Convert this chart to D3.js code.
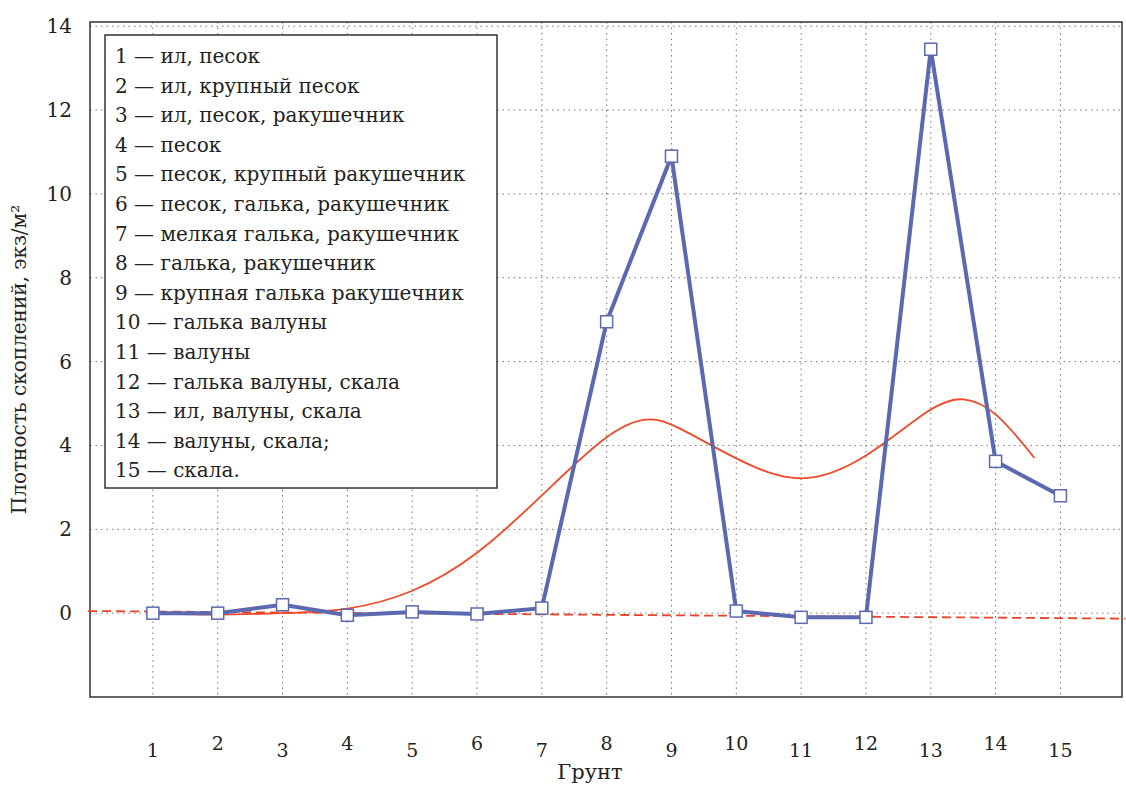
<!DOCTYPE html>
<html><head><meta charset="utf-8">
<script src="https://cdn.jsdelivr.net/npm/d3@7"></script>
<style>body{margin:0;background:#fff}text{font-family:"DejaVu Serif","Liberation Serif",serif;fill:#222}</style>
</head><body><div id="chart"></div>
<script>
const categories = [1,2,3,4,5,6,7,8,9,10,11,12,13,14,15];
const density = [0,0,0.2,-0.05,0.03,-0.02,0.12,6.95,10.9,0.05,-0.1,-0.1,13.45,3.62,2.8];
const trendX = [1,2,3,4,5,6,7,8,8.6,9,10,11,12,13,13.5,14,14.6];
const trendY = [0,-0.05,0,0.05,0.45,1.35,2.8,4.3,4.7,4.55,3.65,3.0,3.65,4.95,5.2,4.85,3.7];
const linX = [0,16];
const linY = [0.05,-0.13];
const yTicks = [0,2,4,6,8,10,12,14];
const legendItems = ["1 — ил, песок","2 — ил, крупный песок","3 — ил, песок, ракушечник","4 — песок",
"5 — песок, крупный ракушечник","6 — песок, галька, ракушечник","7 — мелкая галька, ракушечник",
"8 — галька, ракушечник","9 — крупная галька ракушечник","10 — галька валуны","11 — валуны",
"12 — галька валуны, скала","13 — ил, валуны, скала","14 — валуны, скала;","15 — скала."];

const W=1126,H=785;
const svg=d3.select("#chart").append("svg").attr("width",W).attr("height",H);
const L=90,R=1122,T=22,B=697;
const x=d3.scaleLinear().domain([0.03,15.95]).range([L,R]);
const y=d3.scaleLinear().domain([-2,14.1]).range([B,T]);

svg.append("g").selectAll("line").data(categories).join("line")
  .attr("x1",d=>x(d)).attr("x2",d=>x(d)).attr("y1",T).attr("y2",B)
  .attr("stroke","#777").attr("stroke-dasharray","1.5,4");
svg.append("g").selectAll("line").data(yTicks).join("line")
  .attr("x1",L).attr("x2",R).attr("y1",d=>y(d)).attr("y2",d=>y(d))
  .attr("stroke","#777").attr("stroke-dasharray","1.5,4");
svg.append("rect").attr("x",L).attr("y",T).attr("width",R-L).attr("height",B-T)
  .attr("fill","none").attr("stroke","#333").attr("stroke-width",1.5);

svg.append("g").selectAll("text").data(yTicks).join("text")
  .attr("x",L-18).attr("y",d=>y(d)+7).attr("text-anchor","end").attr("font-size",20).text(d=>d);
svg.append("g").selectAll("text").data(categories).join("text")
  .attr("x",d=>x(d)).attr("y",d=>d%2? 757:750).attr("text-anchor","middle").attr("font-size",19).text(d=>d);
svg.append("text").attr("x",590).attr("y",779).attr("text-anchor","middle").attr("font-size",21).text("Грунт");
svg.append("text").attr("transform","translate(26,"+((T+B)/2)+") rotate(-90)")
  .attr("text-anchor","middle").attr("font-size",20).text("Плотность скоплений, экз/м²");

svg.append("path").datum(linX.map((d,i)=>[d,linY[i]]))
  .attr("d",d3.line().x(d=>x(d[0])).y(d=>y(d[1])))
  .attr("stroke","#e8442a").attr("stroke-width",1.8).attr("stroke-dasharray","9,5").attr("fill","none");
svg.append("path").datum(trendX.map((d,i)=>[d,trendY[i]]))
  .attr("d",d3.line().x(d=>x(d[0])).y(d=>y(d[1])).curve(d3.curveBasis))
  .attr("stroke","#f04a28").attr("stroke-width",1.8).attr("fill","none");
const pts=categories.map((c,i)=>[c,density[i]]);
svg.append("path").datum(pts)
  .attr("d",d3.line().x(d=>x(d[0])).y(d=>y(d[1])))
  .attr("stroke","#5a69b0").attr("stroke-width",4).attr("fill","none");
svg.append("g").selectAll("rect").data(pts).join("rect")
  .attr("x",d=>x(d[0])-6).attr("y",d=>y(d[1])-6).attr("width",12).attr("height",12)
  .attr("fill","#fff").attr("stroke","#5a69b0").attr("stroke-width",1.5);

const lg=svg.append("g");
lg.append("rect").attr("x",105).attr("y",35).attr("width",392).attr("height",453)
  .attr("fill","#fff").attr("stroke","#333").attr("stroke-width",1.5);
lg.selectAll("text").data(legendItems).join("text")
  .attr("x",115).attr("y",(d,i)=>63+i*29.6).attr("font-size",20).text(d=>d);
</script></body></html>
